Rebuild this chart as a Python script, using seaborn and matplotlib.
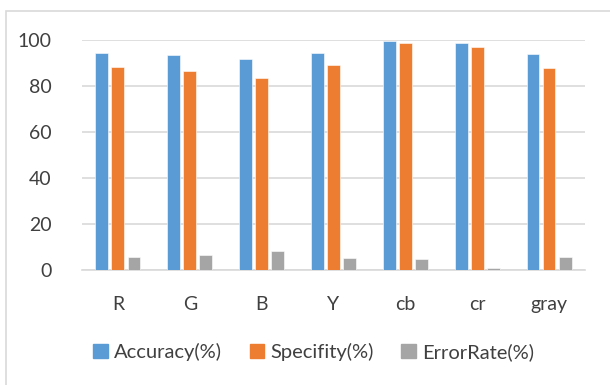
import pandas as pd
import matplotlib.pyplot as plt
import matplotlib.patches as mpatches
import seaborn as sns

# values
channels = ["R", "G", "B", "Y", "cb", "cr", "gray"]
accuracy = [94.2, 93.3, 91.6, 94.5, 99.4, 98.5, 93.9]
specifity = [88.4, 86.7, 83.3, 89.1, 98.7, 97.1, 88.0]
error_rate = [5.5, 6.4, 8.3, 5.2, 4.8, 1.0, 5.8]

series_names = ["Accuracy(%)", "Specifity(%)", "ErrorRate(%)"]
colors = ["#5B9BD5", "#ED7D31", "#A5A5A5"]

df = pd.DataFrame({"channel": channels,
                   series_names[0]: accuracy,
                   series_names[1]: specifity,
                   series_names[2]: error_rate})
long_df = df.melt(id_vars="channel", var_name="metric", value_name="value")

sns.set_theme(style="white")
plt.rcParams['font.family'] = ['Lato', 'DejaVu Sans']

fig = plt.figure(figsize=(6.1, 3.85), dpi=100)
ax = fig.add_axes([0.1344, 0.2987, 0.8246, 0.5974])

sns.barplot(data=long_df, x="channel", y="value", hue="metric",
            palette=colors, saturation=1, width=0.67, gap=0.2, ax=ax,
            legend=False, edgecolor="white", linewidth=0.4, zorder=3)

ax.set_ylim(0, 100)
ax.set_yticks(range(0, 101, 20))
ax.set_xlim(-0.5, len(channels) - 0.5)
ax.grid(axis="y", color="#D9D9D9", linewidth=1.2, zorder=0)
for s in ["top", "right", "left"]:
    ax.spines[s].set_visible(False)
ax.spines["bottom"].set_color("#D9D9D9")
ax.spines["bottom"].set_linewidth(1.2)
ax.tick_params(axis="y", length=0, pad=22, labelsize=14, labelcolor="#404040")
ax.tick_params(axis="x", length=0, pad=19, labelsize=14, labelcolor="#404040")
ax.set_xlabel("")
ax.set_ylabel("")

handles = [mpatches.Patch(color=c, label=n) for c, n in zip(colors, series_names)]
fig.legend(handles=handles, loc="center", bbox_to_anchor=(0.514, 0.086), ncol=3,
           frameon=False, fontsize=14.5, handlelength=0.7, handleheight=0.7,
           handletextpad=0.3, columnspacing=1.4, labelcolor="#404040")

# chart border (cropped at right/bottom like the reference)
fig.patches.append(mpatches.Rectangle((6 / 610, -0.05), 1.2, 1.05 - 11 / 385,
                                      transform=fig.transFigure, fill=False,
                                      edgecolor="#D9D9D9", linewidth=1.2))

fig.savefig("out.png", dpi=100)
